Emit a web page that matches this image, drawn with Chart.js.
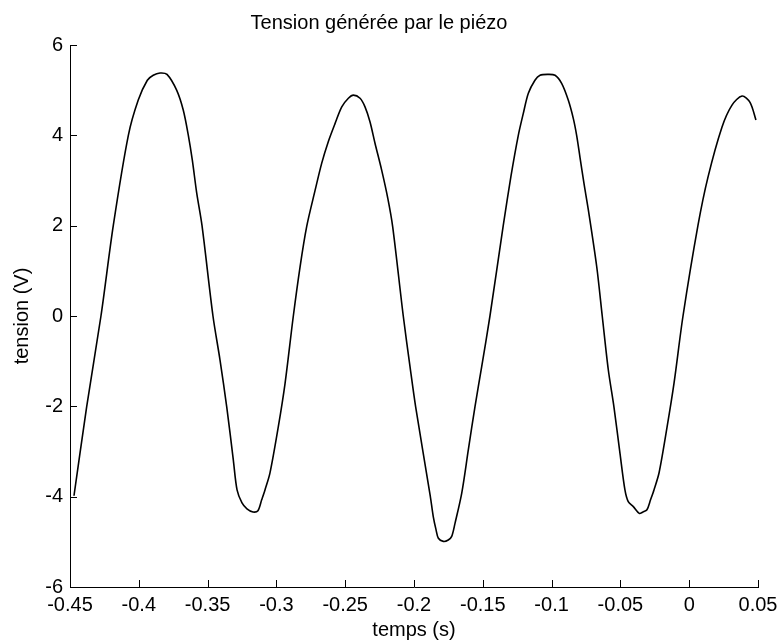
<!DOCTYPE html>
<html>
<head>
<meta charset="utf-8">
<script src="https://cdn.jsdelivr.net/npm/chart.js@4/dist/chart.umd.min.js"></script>
<style>
  html, body { margin: 0; padding: 0; background: #fff; }
  canvas { display: block; }
</style>
</head>
<body>
<canvas id="c" width="779" height="644"></canvas>
<script>
// valeurs (temps en s, tension en V)
const temps = [
  -0.4471, -0.4379, -0.4275, -0.4185, -0.4076, -0.4004, -0.3938, -0.3895, -0.3846, -0.3795,
  -0.3725, -0.3677, -0.3640, -0.3611, -0.3579, -0.3541, -0.3461, -0.3410, -0.3361, -0.3313,
  -0.3286, -0.3250, -0.3214, -0.3170, -0.3134, -0.3107, -0.3083, -0.3047, -0.2986, -0.2937,
  -0.2877, -0.2828, -0.2780, -0.2719, -0.2671, -0.2623, -0.2574, -0.2525, -0.2477, -0.2441,
  -0.2392, -0.2356, -0.2320, -0.2283, -0.2235, -0.2190, -0.2155, -0.2078, -0.2029, -0.1988,
  -0.1882, -0.1860, -0.1840, -0.1823, -0.1787, -0.1751, -0.1726, -0.1702, -0.1653, -0.1605,
  -0.1557, -0.1508, -0.1448, -0.1351, -0.1295, -0.1242, -0.1206, -0.1169, -0.1121, -0.1084,
  -0.1030, -0.0975, -0.0927, -0.0879, -0.0842, -0.0818, -0.0794, -0.0765, -0.0733, -0.0672,
  -0.0632, -0.0588, -0.0547, -0.0503, -0.0467, -0.0443, -0.0406, -0.0363, -0.0336, -0.0307,
  -0.0281, -0.0256, -0.0219, -0.0161, -0.0110, -0.0045, 0.0064, 0.0137, 0.0238, 0.0311,
  0.0384, 0.0442, 0.0485
];
const tension = [
  -3.98, -2.01, 0.00, 2.01, 4.00, 4.78, 5.22, 5.33, 5.38, 5.35,
  5.00, 4.56, 4.00, 3.45, 2.72, 2.01, 0.00, -0.97, -2.01, -3.19,
  -3.85, -4.14, -4.27, -4.34, -4.31, -4.07, -3.85, -3.48, -2.45, -1.49,
  0.00, 1.09, 1.98, 2.78, 3.38, 3.86, 4.26, 4.63, 4.82, 4.89,
  4.82, 4.63, 4.30, 3.82, 3.23, 2.60, 1.98, 0.00, -1.12, -2.01,
  -3.98, -4.44, -4.73, -4.92, -4.99, -4.96, -4.88, -4.59, -3.92, -2.96,
  -2.01, -1.12, 0.00, 2.01, 3.10, 4.00, 4.48, 4.93, 5.22, 5.33,
  5.35, 5.33, 5.15, 4.78, 4.37, 4.00, 3.52, 2.94, 2.35, 1.09,
  0.00, -1.19, -2.01, -3.04, -3.85, -4.11, -4.22, -4.37, -4.34, -4.29,
  -4.07, -3.85, -3.47, -2.46, -1.48, 0.00, 2.01, 3.08, 4.18, 4.67,
  4.87, 4.73, 4.34
];
const xTicks = [-0.45, -0.4, -0.35, -0.3, -0.25, -0.2, -0.15, -0.1, -0.05, 0, 0.05];
const yTicks = [-6, -4, -2, 0, 2, 4, 6];

const font = { family: "'Liberation Sans', Arial, sans-serif", size: 20, weight: 'normal' };

// petites graduations vers l'intérieur, comme matlab
const innerTicks = {
  id: 'innerTicks',
  afterDraw(chart) {
    const { ctx, chartArea, scales } = chart;
    ctx.save();
    ctx.strokeStyle = '#000';
    ctx.lineWidth = 1;
    ctx.beginPath();
    scales.x.ticks.forEach(t => {
      const px = Math.round(scales.x.getPixelForValue(t.value)) + 0.5;
      ctx.moveTo(px, chartArea.bottom);
      ctx.lineTo(px, chartArea.bottom - 7);
    });
    scales.y.ticks.forEach(t => {
      const py = Math.round(scales.y.getPixelForValue(t.value)) + 0.5;
      ctx.moveTo(chartArea.left, py);
      ctx.lineTo(chartArea.left + 7, py);
    });
    ctx.stroke();
    ctx.restore();
  }
};

new Chart(document.getElementById('c'), {
  type: 'line',
  data: {
    datasets: [{
      data: temps.map((t, i) => ({ x: t, y: tension[i] })),
      borderColor: '#000',
      borderWidth: 1.6,
      pointRadius: 0,
      fill: false,
      tension: 0.3
    }]
  },
  options: {
    responsive: false,
    animation: false,
    layout: { padding: { left: 0, right: 21, top: 0, bottom: 0 } },
    plugins: {
      legend: { display: false },
      tooltip: { enabled: false },
      title: {
        display: true,
        text: 'Tension générée par le piézo',
        color: '#000',
        font: font,
        padding: { top: 11, bottom: 10 }
      }
    },
    scales: {
      x: {
        type: 'linear',
        min: -0.45,
        max: 0.05,
        afterBuildTicks: s => { s.ticks = xTicks.map(v => ({ value: v })); },
        afterFit: s => { s.height = 57; s.paddingLeft = 0; s.paddingRight = 0; },
        grid: { display: true, drawOnChartArea: false, drawTicks: false },
        border: { display: true, color: '#000', width: 1 },
        ticks: {
          color: '#000',
          font: font,
          padding: 6,
          maxRotation: 0,
          callback: v => String(+v.toFixed(2))
        },
        title: {
          display: true,
          text: 'temps (s)',
          color: '#000',
          font: font,
          padding: { top: 0, bottom: 2 }
        }
      },
      y: {
        type: 'linear',
        min: -6,
        max: 6,
        afterBuildTicks: s => { s.ticks = yTicks.map(v => ({ value: v })); },
        afterFit: s => { s.width = 70; },
        grid: { display: true, drawOnChartArea: false, drawTicks: false },
        border: { display: true, color: '#000', width: 1 },
        ticks: {
          color: '#000',
          font: font,
          padding: 7,
          callback: v => String(v)
        },
        title: {
          display: true,
          text: 'tension (V)',
          color: '#000',
          font: font,
          padding: { top: 10, bottom: 0 }
        }
      }
    }
  },
  plugins: [innerTicks]
});
</script>
</body>
</html>
